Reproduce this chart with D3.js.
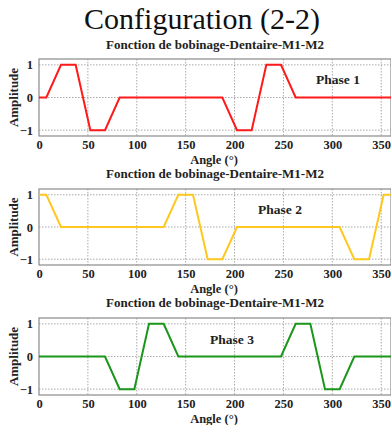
<!DOCTYPE html>
<html><head><meta charset="utf-8">
<script src="https://cdn.jsdelivr.net/npm/d3@7"></script>
<style>body{margin:0;background:#fff;overflow:hidden}</style>
</head><body>
<svg id="chart" width="391" height="425"></svg>
<script>
const mainTitle = "Configuration (2-2)";
const subTitle = "Fonction de bobinage-Dentaire-M1-M2";
const xTicks = [0, 50, 100, 150, 200, 250, 300, 350];
const yTicks = [-1, 0, 1];
const phaseNames = ["Phase 1", "Phase 2", "Phase 3"];
const phaseColors = ["#ff1a1a", "#ffc81e", "#1a961a"];
const phase1Angle = [0, 7.5, 22.5, 37.5, 52.5, 67.5, 82.5, 187.5, 202.5, 217.5, 232.5, 247.5, 262.5, 360];
const phase1Amp   = [0, 0, 1, 1, -1, -1, 0, 0, -1, -1, 1, 1, 0, 0];
const phase2Angle = [0, 7.5, 22.5, 127.5, 142.5, 157.5, 172.5, 187.5, 202.5, 307.5, 322.5, 337.5, 352.5, 360];
const phase2Amp   = [1, 1, 0, 0, 1, 1, -1, -1, 0, 0, -1, -1, 1, 1];
const phase3Angle = [0, 67.5, 82.5, 97.5, 112.5, 127.5, 142.5, 247.5, 262.5, 277.5, 292.5, 307.5, 322.5, 360];
const phase3Amp   = [0, 0, -1, -1, 1, 1, 0, 0, 1, 1, -1, -1, 0, 0];

const svg = d3.select("#chart");
const serif = "'Liberation Serif', 'Times New Roman', serif";

svg.append("text").attr("x", 202).attr("y", 29).attr("text-anchor", "middle")
  .attr("font-family", serif).attr("font-size", 30).attr("fill", "#111").text(mainTitle);

const panels = [
  {angle: phase1Angle, amp: phase1Amp, top: 59, bottom: 136, subY: 49, labelX: 338, labelY: 84},
  {angle: phase2Angle, amp: phase2Amp, top: 189, bottom: 265, subY: 178, labelX: 280, labelY: 214},
  {angle: phase3Angle, amp: phase3Amp, top: 318, bottom: 395, subY: 307, labelX: 232, labelY: 344}
];

const x = d3.scaleLinear().domain([0, 360]).range([39, 391]);

panels.forEach((p, i) => {
  const y = d3.scaleLinear().domain([-1.18, 1.18]).range([p.bottom, p.top]);
  const g = svg.append("g");
  g.append("text").attr("x", 215).attr("y", p.subY).attr("text-anchor", "middle")
    .attr("font-family", serif).attr("font-weight", "bold").attr("font-size", 13)
    .attr("fill", "#222").text(subTitle);
  g.append("g").selectAll("line").data(xTicks.filter(d => d > 0)).join("line")
    .attr("x1", d => x(d)).attr("x2", d => x(d)).attr("y1", p.top).attr("y2", p.bottom)
    .attr("stroke", "#aaa").attr("stroke-width", 1).attr("stroke-dasharray", "1.5,1.5");
  g.append("g").selectAll("line").data(yTicks).join("line")
    .attr("x1", x(0)).attr("x2", x(360)).attr("y1", d => y(d)).attr("y2", d => y(d))
    .attr("stroke", "#aaa").attr("stroke-width", 1).attr("stroke-dasharray", "1.5,1.5");
  g.append("rect").attr("x", x(0)).attr("y", p.top).attr("width", x(360) - x(0))
    .attr("height", p.bottom - p.top).attr("fill", "none").attr("stroke", "#8a8a8a").attr("stroke-width", 1.2);
  const xAxis = g.append("g").attr("transform", `translate(0,${p.bottom})`)
    .call(d3.axisBottom(x).tickValues(xTicks).tickSize(0).tickPadding(4));
  const yAxis = g.append("g").attr("transform", `translate(${x(0)},0)`)
    .call(d3.axisLeft(y).tickValues(yTicks).tickSize(0).tickPadding(6).tickFormat(d3.format("d")));
  [xAxis, yAxis].forEach(a => {
    a.select(".domain").remove();
    a.selectAll("text").attr("font-family", serif).attr("font-weight", "bold")
      .attr("font-size", 12.5).attr("fill", "#222");
  });
  g.append("text").attr("x", 214).attr("y", p.bottom + 27.5).attr("text-anchor", "middle")
    .attr("font-family", serif).attr("font-weight", "bold").attr("font-size", 12.5)
    .attr("fill", "#222").text("Angle (°)");
  g.append("text").attr("transform", `translate(18,${(p.top + p.bottom) / 2}) rotate(-90)`)
    .attr("text-anchor", "middle").attr("font-family", serif).attr("font-weight", "bold")
    .attr("font-size", 13).attr("fill", "#222").text("Amplitude");
  const pts = p.angle.map((a, k) => [a, p.amp[k]]);
  g.append("path").datum(pts)
    .attr("d", d3.line().x(d => x(d[0])).y(d => y(d[1])))
    .attr("fill", "none").attr("stroke", phaseColors[i]).attr("stroke-width", 2);
  g.append("text").attr("x", p.labelX).attr("y", p.labelY).attr("text-anchor", "middle")
    .attr("font-family", serif).attr("font-weight", "bold").attr("font-size", 13.5)
    .attr("fill", "#222").text(phaseNames[i]);
});
</script>
</body></html>
